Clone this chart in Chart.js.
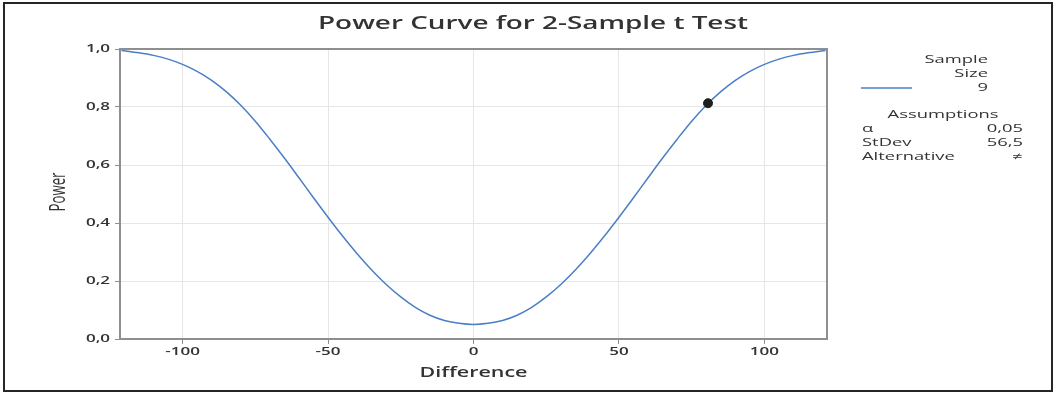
<!DOCTYPE html>
<html>
<head>
<meta charset="utf-8">
<script src="https://cdn.jsdelivr.net/npm/chart.js@4.4.1/dist/chart.umd.min.js"></script>
<style>
  html, body { margin: 0; padding: 0; background: #fff; }
  #wrap { position: relative; width: 1056px; height: 396px; }
  #frame { position: absolute; left: 3px; top: 2px; width: 1046px; height: 386px; border: 2px solid #262626; pointer-events: none; }
  canvas { position: absolute; left: 0; top: 0; }
</style>
</head>
<body>
<div id="wrap">
  <canvas id="power" width="1056" height="396"></canvas>
  <div id="frame"></div>
</div>
<script>
// === Data ===
const differences = [-121, -115, -110, -105, -100, -95, -90, -85, -80, -75, -70, -65, -60, -55, -50, -45, -40, -35, -30, -25, -20, -15, -10, -5,
  0, 5, 10, 15, 20, 25, 30, 35, 40, 45, 50, 55, 60, 65, 70, 75, 80, 85, 90, 95, 100, 105, 110, 115, 121];
const powers = [0.995, 0.987, 0.978, 0.965, 0.947, 0.923, 0.892, 0.853, 0.806, 0.751, 0.689, 0.624, 0.556, 0.487, 0.42, 0.355, 0.294, 0.238, 0.188, 0.145, 0.109, 0.082, 0.064, 0.054,
  0.05, 0.054, 0.064, 0.082, 0.109, 0.145, 0.188, 0.238, 0.294, 0.355, 0.42, 0.487, 0.556, 0.624, 0.689, 0.751, 0.806, 0.853, 0.892, 0.923, 0.947, 0.965, 0.978, 0.987, 0.995];
const targetPoint = { x: 80.6, y: 0.813 };

const xTicks = [-100, -50, 0, 50, 100];
const xTickLabels = ["-100", "-50", "0", "50", "100"];
const yTicks = [0, 0.2, 0.4, 0.6, 0.8, 1.0];
const yTickLabels = ["0,0", "0,2", "0,4", "0,6", "0,8", "1,0"];

const titleText = "Power Curve for 2-Sample t Test";
const xTitle = "Difference";
const yTitle = "Power";
const sampleSizes = ["9"];
const assumptionNames = ["\u03b1", "StDev", "Alternative"];
const assumptionValues = ["0,05", "56,5", "\u2260"];

const lineColor = "#4a7fc6";
const textColor = "#333333";
const FONT = "'Open Sans', 'Noto Sans', sans-serif";

// text is drawn wide and flat, like the reference picture
function drawText(ctx, text, x, y, align, font, sx, targetWidth) {
  ctx.save();
  ctx.font = font;
  ctx.fillStyle = textColor;
  ctx.textBaseline = "middle";
  ctx.textAlign = align;
  if (targetWidth) sx = targetWidth / ctx.measureText(text).width;
  ctx.translate(x, y);
  ctx.scale(sx, 1);
  ctx.fillText(text, 0, 0);
  ctx.restore();
}

// === Title, axis titles, tick labels, frame and legend ===
const decorations = {
  id: "decorations",
  afterDraw(chart) {
    const ctx = chart.ctx;
    const a = chart.chartArea;
    const xs = chart.scales.x, ys = chart.scales.y;

    // plot frame (top and right)
    ctx.save();
    ctx.strokeStyle = "#8f8f8f";
    ctx.lineWidth = 2;
    ctx.beginPath();
    ctx.moveTo(a.left, a.top);
    ctx.lineTo(a.right, a.top);
    ctx.lineTo(a.right, a.bottom);
    ctx.stroke();
    ctx.restore();

    // tick labels
    const tf = "600 10px " + FONT;
    xTicks.forEach((v, i) => drawText(ctx, xTickLabels[i], xs.getPixelForValue(v), a.bottom + 13, "center", tf, 1.7));
    yTicks.forEach((v, i) => drawText(ctx, yTickLabels[i], a.left - 10, ys.getPixelForValue(v), "right", tf, 1.7));

    drawText(ctx, titleText, 533, 24, "center", "600 18px " + FONT, 1, 430);
    drawText(ctx, xTitle, (a.left + a.right) / 2, 373, "center", "600 14px " + FONT, 1, 108);

    ctx.save();
    ctx.translate(59, 192);
    ctx.rotate(-Math.PI / 2);
    drawText(ctx, yTitle, 0, 0, "center", "500 21px " + FONT, 1, 39);
    ctx.restore();

    // legend
    const f = "500 10.5px " + FONT;
    drawText(ctx, "Sample", 988, 60, "right", f, 1.75);
    drawText(ctx, "Size", 988, 74, "right", f, 1.75);
    ctx.save();
    ctx.strokeStyle = lineColor;
    ctx.lineWidth = 1.5;
    ctx.beginPath();
    ctx.moveTo(861, 88);
    ctx.lineTo(912, 88);
    ctx.stroke();
    ctx.restore();
    sampleSizes.forEach((s, i) => drawText(ctx, s, 988, 88 + i * 14, "right", f, 1.75));

    drawText(ctx, "Assumptions", 943, 115, "center", f, 1.75);
    assumptionNames.forEach((n, i) => {
      drawText(ctx, n, 862, 129 + i * 14, "left", f, 1.75);
      drawText(ctx, assumptionValues[i], 1023, 129 + i * 14, "right", f, 1.75);
    });
  }
};

new Chart(document.getElementById("power").getContext("2d"), {
  type: "scatter",
  data: {
    datasets: [
      {
        label: "9",
        data: [targetPoint],
        pointRadius: 4.5,
        pointBackgroundColor: "#1e1e1e",
        pointBorderColor: "#1e1e1e",
        showLine: false
      },
      {
        label: "curve",
        data: differences.map((d, i) => ({ x: d, y: powers[i] })),
        showLine: true,
        borderColor: lineColor,
        borderWidth: 1.5,
        pointRadius: 0,
        cubicInterpolationMode: "monotone"
      }
    ]
  },
  options: {
    responsive: false,
    animation: false,
    layout: { padding: { left: 70, right: 229, top: 49, bottom: 33 } },
    plugins: { legend: { display: false }, tooltip: { enabled: false }, title: { display: false } },
    scales: {
      x: {
        type: "linear",
        min: -121.5,
        max: 121.5,
        afterBuildTicks: s => { s.ticks = xTicks.map(v => ({ value: v })); },
        afterFit: s => { s.height = 24; },
        grid: { color: "#e6e6e6", tickColor: "#8f8f8f", tickLength: 5, lineWidth: 1 },
        border: { color: "#8f8f8f", width: 2 },
        ticks: { display: false }
      },
      y: {
        min: 0,
        max: 1,
        afterBuildTicks: s => { s.ticks = yTicks.map(v => ({ value: v })); },
        afterFit: s => { s.width = 50; },
        grid: { color: "#e6e6e6", tickColor: "#8f8f8f", tickLength: 5, lineWidth: 1 },
        border: { color: "#8f8f8f", width: 2 },
        ticks: { display: false }
      }
    }
  },
  plugins: [decorations]
});
</script>
</body>
</html>
